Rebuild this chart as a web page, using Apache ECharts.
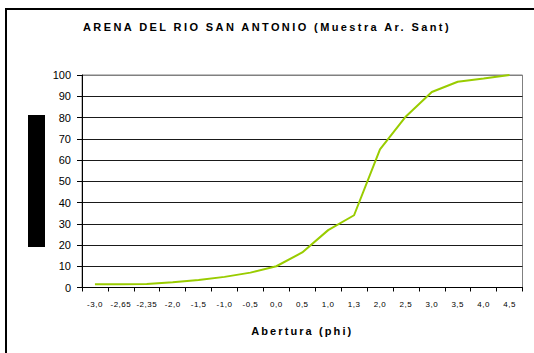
<!DOCTYPE html>
<html><head><meta charset="utf-8">
<script src="https://cdn.jsdelivr.net/npm/echarts@6/dist/echarts.min.js"></script>
<style>html,body{margin:0;padding:0;background:#fff}#c{width:534px;height:353px}</style>
</head><body><div id="c"></div>
<script>
const categories = ['-3,0','-2,65','-2,35','-2,0','-1,5','-1,0','-0,5','0,0','0,5','1,0','1,3','2,0','2,5','3,0','3,5','4,0','4,5'];
const cumulative = [1.5, 1.5, 1.6, 2.5, 3.5, 5, 7, 10, 16.5, 27, 34, 65, 80.5, 92, 96.8, 98.3, 100];
const yTicks = { min: 0, max: 100, interval: 10 };
const titleText = 'ARENA DEL RIO SAN ANTONIO (Muestra Ar. Sant)';
const xName = 'Abertura (phi)';

const FONT = '"Liberation Sans", Arial, sans-serif';
const chart = echarts.init(document.getElementById('c'), null, { renderer: 'svg' });
const splitColors = [];
for (let i = 0; i <= 10; i++) splitColors.push(i === 10 ? '#808080' : '#1a1a1a');

chart.setOption({
  animation: false,
  backgroundColor: '#fff',
  title: {
    text: titleText, left: 'center', top: 21, padding: 0,
    textStyle: { fontFamily: FONT, fontSize: 11, fontWeight: 'bold', color: '#000' }
  },
  graphic: [
    { type: 'rect', shape: { x: 6, y: 9, width: 700, height: 500 }, style: { fill: 'none', stroke: '#000', lineWidth: 2 }, silent: true },
    { type: 'rect', shape: { x: 28, y: 115, width: 17, height: 132 }, style: { fill: '#000' }, silent: true }
  ],
  grid: { left: 82, right: 11.5, top: 75, bottom: 65.5, show: true, borderColor: '#808080', borderWidth: 1, backgroundColor: 'transparent' },
  xAxis: {
    type: 'category', data: categories, boundaryGap: true,
    name: xName, nameLocation: 'middle', nameGap: 38,
    nameTextStyle: { fontFamily: FONT, fontSize: 11, fontWeight: 'bold', color: '#000' },
    axisLine: { lineStyle: { color: '#000', width: 1 } },
    axisTick: { show: true, length: 4, lineStyle: { color: '#000' }, alignWithLabel: false },
    axisLabel: { fontFamily: FONT, fontSize: 8, color: '#000', margin: 13, interval: 0 },
    splitLine: { show: false }
  },
  yAxis: {
    type: 'value', min: yTicks.min, max: yTicks.max, interval: yTicks.interval,
    axisLine: { show: true, lineStyle: { color: '#000', width: 1 } },
    axisTick: { show: true, length: 5, lineStyle: { color: '#000' } },
    axisLabel: { fontFamily: FONT, fontSize: 11, color: '#000', margin: 11 },
    splitLine: { show: true, lineStyle: { color: splitColors, width: 1 } }
  },
  series: [{
    type: 'line', data: cumulative, showSymbol: false, symbol: 'none', smooth: false,
    lineStyle: { color: '#99cc00', width: 2 }, itemStyle: { color: '#99cc00' }
  }]
});

function applySpacing() {
  document.querySelectorAll('#c svg text').forEach(t => {
    const s = t.textContent;
    if (s === titleText) t.style.letterSpacing = '2.4px';
    else if (s === xName) t.style.letterSpacing = '2.1px';
    else if (categories.indexOf(s) >= 0) t.style.letterSpacing = '0.5px';
  });
}
applySpacing();
chart.on('finished', applySpacing);
</script></body></html>
